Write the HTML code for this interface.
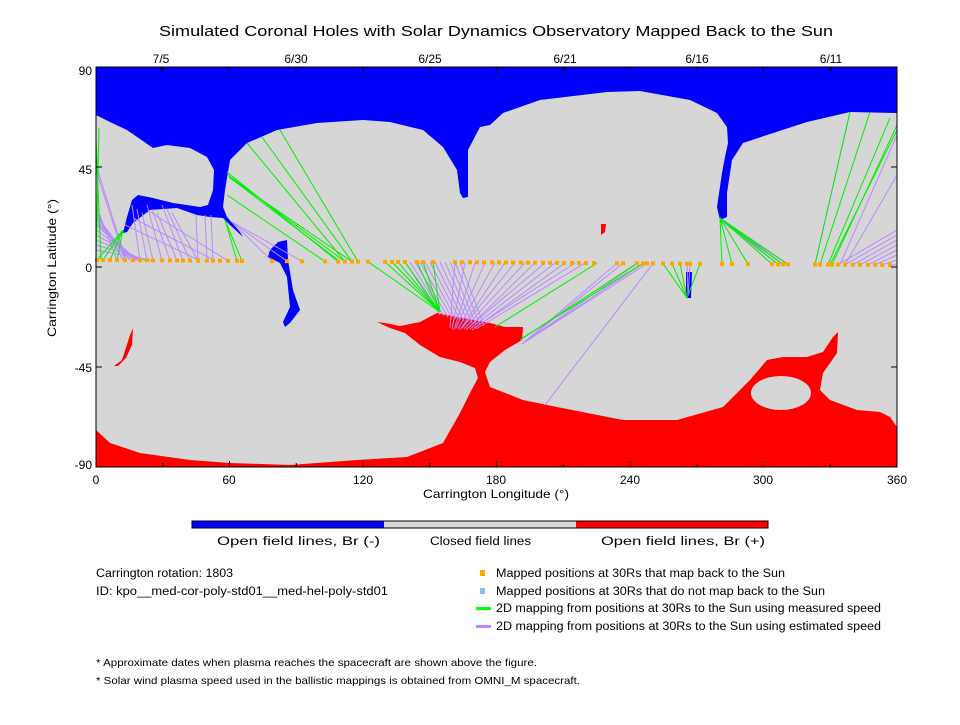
<!DOCTYPE html>
<html><head><meta charset="utf-8"><style>
html,body{margin:0;padding:0;background:#fff;}
svg text{font-family:"Liberation Sans",sans-serif;fill:#000;}
</style></head><body>
<svg id="s" width="960" height="720" xmlns="http://www.w3.org/2000/svg">
<rect width="960" height="720" fill="#fff"/>
<text x="496" y="36" font-size="15" text-anchor="middle" textLength="674" lengthAdjust="spacingAndGlyphs">Simulated Coronal Holes with Solar Dynamics Observatory Mapped Back to the Sun</text>
<g font-size="12" text-anchor="middle">
<text x="161" y="63">7/5</text><text x="296" y="63">6/30</text><text x="430" y="63">6/25</text><text x="565" y="63">6/21</text><text x="697" y="63">6/16</text><text x="831" y="63">6/11</text>
</g>
<rect x="96" y="67" width="801" height="400" fill="#d6d6d6"/>
<path fill="#0000ff" d="M96,67 L897,67 L897,113 L850,112 L807,122 L773,133 L743,143 L732,160 L727,193 L727,217 L720,220 L717,207 L722,173 L725,157 L728,143 L727,127 L717,113 L690,100 L640,91 L607,92 L540,100 L503,113 L490,125 L480,127 L468,150 L468,197 L463,198 L460,193 L457,170 L443,147 L423,130 L390,122 L363,120 L317,123 L277,130 L247,143 L230,160 L225,190 L223,207 L227,217 L240,232 L243,237 L230,225 L223,218 L210,217 L197,215 L177,208 L150,210 L133,223 L127,232 L123,233 L127,217 L132,200 L138,195 L153,198 L173,203 L200,207 L208,205 L213,190 L214,170 L207,157 L190,148 L167,145 L153,148 L127,130 L110,122 L96,115 Z"/>
<path fill="#0000ff" d="M268,257 L270,250 L278,242 L287,240 L288,260 L293,290 L300,310 L290,323 L285,327 L283,322 L290,307 L287,277 L280,263 Z"/>
<path fill="#0000ff" d="M686,272 L692,272 L691,298 L686,298 Z"/>
<path fill="#ff0000" d="M96,430 L110,443 L140,453 L190,460 L230,463 L290,465 L357,460 L407,457 L443,443 L460,413 L470,393 L478,378 L475,368 L460,362 L440,357 L420,345 L405,333 L390,328 L377,322 L385,323 L400,326 L420,322 L437,313 L457,317 L490,323 L505,327 L523,327 L522,340 L505,350 L490,362 L485,372 L490,387 L523,400 L557,407 L623,420 L677,420 L723,407 L750,380 L767,360 L783,357 L807,357 L823,352 L833,337 L838,332 L837,353 L823,373 L820,390 L830,400 L857,410 L880,412 L890,417 L897,427 L897,467 L96,467 Z"/>
<ellipse cx="781" cy="393" rx="30" ry="17" fill="#d6d6d6"/>
<path fill="#ff0000" d="M114,366 L122,360 L130,335 L133,328 L132,345 L126,358 L118,366 Z"/>
<path fill="#ff0000" d="M601,224 L606,224 L605,232 L601,235 Z"/>
<g id="lines" stroke-width="1"></g>
<g id="dots" fill="#ffa500"></g>
<rect x="96" y="67" width="801" height="400" fill="none" stroke="#000" stroke-width="1"/>
<g id="ticks" stroke="#000"></g>
<g font-size="12" text-anchor="end">
<text x="92" y="75">90</text><text x="92" y="174">45</text><text x="92" y="272">0</text><text x="92" y="372">-45</text><text x="92" y="469">-90</text>
</g>
<g font-size="12" text-anchor="middle">
<text x="96" y="484">0</text><text x="229" y="484">60</text><text x="363" y="484">120</text><text x="496" y="484">180</text><text x="630" y="484">240</text><text x="763" y="484">300</text><text x="897" y="484">360</text>
<text x="496" y="498" textLength="146" lengthAdjust="spacingAndGlyphs">Carrington Longitude (°)</text>
<text transform="translate(56,268) rotate(-90)" textLength="138" lengthAdjust="spacingAndGlyphs">Carrington Latitude (°)</text>
</g>
<rect x="192" y="521" width="192" height="7" fill="#0000ff"/>
<rect x="384" y="521" width="192" height="7" fill="#d6d6d6"/>
<rect x="576" y="521" width="192" height="7" fill="#ff0000"/>
<rect x="192" y="521" width="576" height="7" fill="none" stroke="#000"/>
<g font-size="11.5">
<text x="217" y="545" textLength="163" lengthAdjust="spacingAndGlyphs">Open field lines, Br (-)</text>
<text x="430" y="545" textLength="101" lengthAdjust="spacingAndGlyphs">Closed field lines</text>
<text x="601" y="545" textLength="164" lengthAdjust="spacingAndGlyphs">Open field lines, Br (+)</text>
<text x="96" y="577" textLength="137" lengthAdjust="spacingAndGlyphs">Carrington rotation: 1803</text>
<text x="96" y="595" textLength="292" lengthAdjust="spacingAndGlyphs">ID: kpo__med-cor-poly-std01__med-hel-poly-std01</text>
<text x="496" y="577" textLength="289" lengthAdjust="spacingAndGlyphs">Mapped positions at 30Rs that map back to the Sun</text>
<text x="496" y="595" textLength="329" lengthAdjust="spacingAndGlyphs">Mapped positions at 30Rs that do not map back to the Sun</text>
<text x="496" y="612" textLength="385" lengthAdjust="spacingAndGlyphs">2D mapping from positions at 30Rs to the Sun using measured speed</text>
<text x="496" y="630" textLength="385" lengthAdjust="spacingAndGlyphs">2D mapping from positions at 30Rs to the Sun using estimated speed</text>
</g>
<g font-size="10.5">
<text x="96" y="666" textLength="441" lengthAdjust="spacingAndGlyphs">* Approximate dates when plasma reaches the spacecraft are shown above the figure.</text>
<text x="96" y="684" textLength="484" lengthAdjust="spacingAndGlyphs">* Solar wind plasma speed used in the ballistic mappings is obtained from OMNI_M spacecraft.</text>
</g>
<rect x="480" y="570" width="5" height="6" fill="#ffa500"/>
<rect x="480" y="588" width="5" height="6" fill="#87bff0"/>
<rect x="476" y="607" width="15" height="3" fill="#00ff00"/>
<rect x="476" y="625" width="15" height="3" fill="#bb88ff"/>
</svg>
<script>
var NS="http://www.w3.org/2000/svg";
function el(p,t,a){var e=document.createElementNS(NS,t);for(var k in a)e.setAttribute(k,a[k]);document.getElementById(p).appendChild(e);}
var dx=[97,103,110,117,125,133,140,147,153,162,170,177,183,190,198,207,213,220,228,237,242,272,287,302,325,338,345,352,358,368,385,392,398,405,417,423,433];
for(var x=455;x<=597;x+=7.3)dx.push(Math.round(x));
dx=dx.concat([617,623,637,643,647,653,663,672,680,687,690,700,722,732,748,772,778,783,788,815,820,828,832,838,845,853,860,868,875,882,890]);
function dy(x){return 260+(x-96)/801*5;}
var G="#00ee00",P="#bb88ff";
function L(x1,y1,x2,c){el("lines","line",{x1:x1,y1:y1,x2:x2,y2:dy(x2),stroke:c});}
[97,103,110,117].forEach(function(x,i){L(96,205+i*6,x+20,P);});
for(var i=0;i<8;i++)L(96,215+i*5,130+i*3,P);
L(96,170,125,P);L(97,168,126,P);
[140,147,153,162,170,177,183,190,198].forEach(function(x,i){L(132+i*5,205+(i%3)*4,x,P);});
L(125,225,200,P);L(133,218,215,P);L(150,212,228,P);
[198,207,213].forEach(function(x){L(x-2,215,x,P);});
[272,287,302].forEach(function(x){L(232,222,x,P);});
for(var i=0;i<14;i++){var x=455+i*10;L(450+i*2,328+(i%3),Math.min(x,597),P);}
for(var i=0;i<12;i++)L(440+i*4,315+i,405+i*5,P);
[617,623,637,643,647].forEach(function(x){L(522,344,x,P);});
L(545,405,653,P);
[687,690].forEach(function(x){L(688,296,x,P);});
[778,783,788].forEach(function(x){L(720,220,x,P);});
L(850,112,815,P);
[838,845,853,860,868,875,882,890].forEach(function(x,i){L(897,230+i*5,x,P);});
L(897,135,840,P);L(897,175,845,P);
[97,103,110,117].forEach(function(x){L(123,230,x,G);});
L(96,140,101,G);L(99,128,96,G);
[237,242].forEach(function(x){L(225,220,x,G);});
[[227,172,338],[228,175,345],[230,178,352],[227,195,325],[247,143,345],[262,137,352],[280,130,358],[229,177,340]].forEach(function(a){L(a[0],a[1],a[2],G);});
[368,385,392,398,405,417,423,433].forEach(function(x){L(440,312,x,G);});
L(495,327,597,G);L(520,340,637,G);L(522,338,643,G);
[663,672,680,700].forEach(function(x){L(687,298,x,G);});
[722,732,748,772,778,783,788].forEach(function(x){L(720,218,x,G);});
[[850,112,815],[870,112,820],[890,118,828],[897,125,832],[897,130,830]].forEach(function(a){L(a[0],a[1],a[2],G);});
dx.forEach(function(x){el("dots","rect",{x:x-2,y:dy(x)-2,width:4,height:4});});
for(var l=0;l<=360;l+=30){var X=96+l*801/360;var h=(l%60==0)?6:4;
el("ticks","line",{x1:X,y1:467,x2:X,y2:467-h});el("ticks","line",{x1:X,y1:67,x2:X,y2:67+h});}
[161,296,430,565,697,831].forEach(function(X){el("ticks","line",{x1:X,y1:67,x2:X,y2:73});});
for(var b=-90;b<=90;b+=45){var Y=267-b*400/180;el("ticks","line",{x1:96,y1:Y,x2:102,y2:Y});el("ticks","line",{x1:897,y1:Y,x2:891,y2:Y});}
</script>
</body></html>
